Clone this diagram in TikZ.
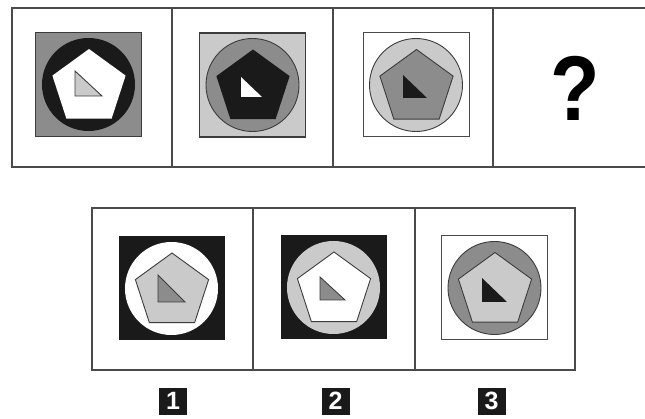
\documentclass[tikz,border=0pt]{standalone}
\usepackage{fontspec}
\setmainfont{Liberation Sans}
\definecolor{midg}{HTML}{8C8C8C}
\definecolor{lightg}{HTML}{CACACA}
\definecolor{blk}{HTML}{1A1A1A}
\definecolor{edge}{HTML}{3C3C3C}
\definecolor{framec}{HTML}{4A4A4A}
\newcommand\pfig[6]{%
  \begin{scope}[shift={(#1,#2)}]
    \path[#3] (-53,-52) rectangle (53,52);
    \path[#4] (0,0) circle[radius=46.5];
    \begin{scope}[shift={(0.5,3)}]
      \path[#5] (-90:38.5) -- (-18:38.5) -- (54:38.5) -- (126:38.5) -- (198:38.5) -- cycle;
    \end{scope}
    #6
  \end{scope}}
\begin{document}
\begin{tikzpicture}[x=1pt,y=-1pt,
  frame/.style={draw=framec, line width=1.6pt},
  sqmid/.style={fill=midg, draw=edge, line width=1.2pt},
  sqlight/.style={fill=lightg, draw=edge, line width=1.2pt},
  sqwhite/.style={fill=white, draw=framec, line width=1pt},
  sqblack/.style={fill=blk},
  cblack/.style={fill=blk},
  cwhite/.style={fill=white},
  clight/.style={fill=lightg, draw=edge, line width=0.9pt},
  clightn/.style={fill=lightg},
  cmid/.style={fill=midg, draw=edge, line width=0.9pt},
  pwhite/.style={fill=white},
  pwhiteo/.style={fill=white, draw=edge, line width=0.9pt},
  pblack/.style={fill=blk},
  pmid/.style={fill=midg, draw=edge, line width=0.9pt},
  plight/.style={fill=lightg, draw=edge, line width=0.9pt},
  tlight/.style={fill=lightg, draw=edge, line width=0.9pt},
  twhite/.style={fill=white},
  tblack/.style={fill=blk},
  tmid/.style={fill=midg, draw=edge, line width=0.9pt},
  lab/.style={fill=blk, text=white, font=\fontsize{25}{25}\selectfont\bfseries, minimum width=28pt, minimum height=27pt, inner sep=0pt}
]
\useasboundingbox (0,0) rectangle (645,419);
\clip (0,0) rectangle (645,419);
\fill[white] (0,0) rectangle (645,419);

% top row frame
\draw[frame] (12,8) rectangle (660,167);
\draw[frame] (172,8) -- (172,167);
\draw[frame] (333,8) -- (333,167);
\draw[frame] (493,8) -- (493,167);

\pfig{88.5}{84.5}{sqmid}{cblack}{pwhite}{\path[tlight] (-13.5,-13.5) -- (-13.5,11.5) -- (13.5,11.5) -- cycle;}
\pfig{252.5}{85}{sqlight}{cmid}{pblack}{\path[twhite] (-11.5,-8) -- (-11.5,12) -- (9.5,12) -- cycle;}
\pfig{416}{85}{sqwhite}{clight}{pmid}{\path[tblack] (-13,-10) -- (-13,13) -- (11,13) -- cycle;}

\node[font=\fontsize{92}{92}\selectfont\bfseries, xscale=0.88, inner sep=0pt] (q) at (575,88) {?};

% bottom row frame
\draw[frame] (92,208) rectangle (575,370);
\draw[frame] (253,208) -- (253,370);
\draw[frame] (415,208) -- (415,370);

\pfig{171.5}{288.5}{sqblack}{cwhite}{plight}{\path[tmid] (-13.5,-13.5) -- (-13.5,13.5) -- (13.5,13.5) -- cycle;}
\pfig{333.5}{287.5}{sqblack}{clightn}{pwhiteo}{\path[tmid] (-13.5,-10.5) -- (-13.5,12.5) -- (11.5,12.5) -- cycle;}
\pfig{494.5}{288}{sqwhite}{cmid}{plight}{\path[tblack] (-12.5,-10) -- (-12.5,14) -- (12.5,14) -- cycle;}

\node[lab] (l1) at (173,401) {1};
\node[lab] (l2) at (335.5,401) {2};
\node[lab] (l3) at (491.5,401) {3};
\end{tikzpicture}
\end{document}
